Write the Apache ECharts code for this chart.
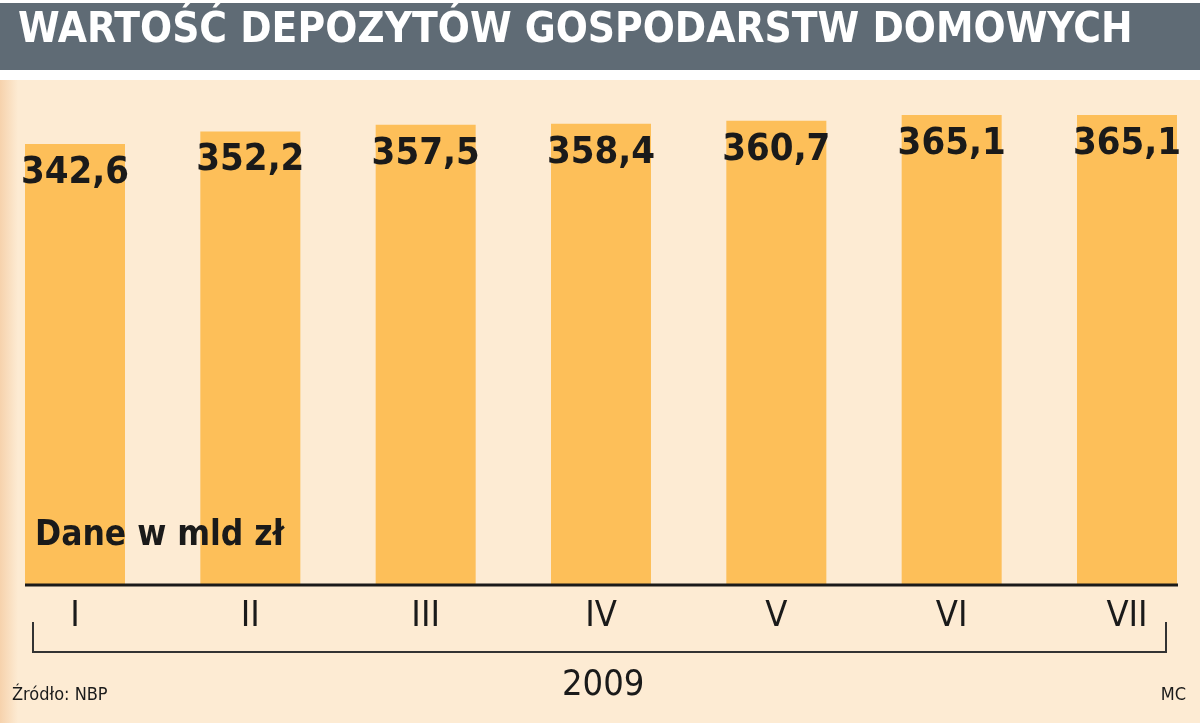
<!DOCTYPE html>
<html><head><meta charset="utf-8">
<script src="https://cdn.jsdelivr.net/npm/echarts@6/dist/echarts.min.js"></script>
<style>html,body{margin:0;padding:0;background:#fff}#c{width:1200px;height:723px}</style>
</head><body><div id="c"></div>
<script>
const categories = ['I','II','III','IV','V','VI','VII'];
const values = [342.6, 352.2, 357.5, 358.4, 360.7, 365.1, 365.1];
const labels = ['342,6','352,2','357,5','358,4','360,7','365,1','365,1'];
const NF = '"Liberation Sans Narrow","DejaVu Sans Condensed","Roboto Condensed",Roboto,sans-serif';
const chart = echarts.init(document.getElementById('c'));
chart.setOption({
  backgroundColor: '#ffffff',
  animation: false,
  graphic: [
    {type:'rect', z:-10, shape:{x:0,y:3,width:1200,height:67}, style:{fill:'#5f6b75'}},
    {type:'rect', z:-10, shape:{x:0,y:80,width:1200,height:643}, style:{fill:new echarts.graphic.LinearGradient(0,0,1,0,[{offset:0,color:'#f6d2ac'},{offset:0.015,color:'#fdebd3'},{offset:1,color:'#fdebd3'}])}},
    {type:'text', left:18, top:10, style:{text:'WARTOŚĆ DEPOZYTÓW GOSPODARSTW DOMOWYCH', fill:'#ffffff', font:'bold 42px '+NF}},
    {type:'text', left:35, top:518, z:10, style:{text:'Dane w mld zł', fill:'#1a1a1a', font:'bold 35px '+NF}},
    {type:'line', z:10, shape:{x1:25,y1:585,x2:1178,y2:585}, style:{stroke:'#1a1a1a',lineWidth:3}},
    {type:'polyline', shape:{points:[[33,622],[33,652],[1166,652],[1166,622]]}, style:{stroke:'#333',lineWidth:2,fill:null}},
    {type:'text', left:562, top:668, style:{text:'2009', fill:'#1a1a1a', font:'36px '+NF}},
    {type:'text', left:12, top:686, style:{text:'Źródło: NBP', fill:'#1a1a1a', font:'18px '+NF}},
    {type:'text', right:14, top:686, style:{text:'MC', fill:'#1a1a1a', font:'18px '+NF}}
  ],
  grid: {left:75, right:73, top:115, bottom:138, containLabel:false},
  xAxis: {type:'category', data:categories, boundaryGap:false,
    axisLine:{show:false},
    axisTick:{show:false},
    axisLabel:{color:'#1a1a1a', fontSize:36, fontFamily:NF, margin:14}},
  yAxis: {type:'value', min:0, max:365.1, show:false, splitLine:{show:false}},
  series: [{type:'bar', data:values, barWidth:100, itemStyle:{color:'#fdbf59'},
    label:{show:true, position:'insideTop', distance:10, color:'#1a1a1a', fontSize:38, fontWeight:'bold', fontFamily:NF,
      formatter:p=>labels[p.dataIndex]}}]
});
</script></body></html>
